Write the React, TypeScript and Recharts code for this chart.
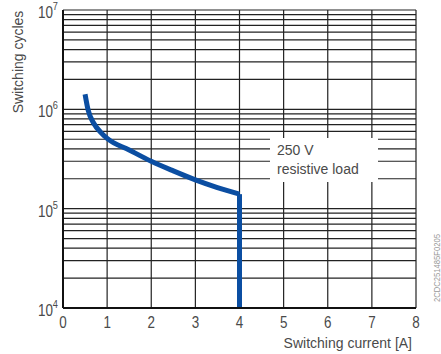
import { CartesianGrid, Line, LineChart, XAxis, YAxis } from 'recharts';

const xTicks = [0, 1, 2, 3, 4, 5, 6, 7, 8];
const yTicks = [
  1e4, 2e4, 3e4, 4e4, 5e4, 6e4, 7e4, 8e4, 9e4,
  1e5, 2e5, 3e5, 4e5, 5e5, 6e5, 7e5, 8e5, 9e5,
  1e6, 2e6, 3e6, 4e6, 5e6, 6e6, 7e6, 8e6, 9e6,
  1e7,
];

// switching current [A] vs switching cycles, 250 V resistive load
const curveCurrent = [0.5, 0.57, 0.7, 0.85, 1, 1.5, 2, 2.5, 3, 3.5, 4];
const curveCycles = [1.42e6, 9.8e5, 7.2e5, 5.9e5, 5.1e5, 3.9e5, 3.0e5, 2.4e5, 1.95e5, 1.63e5, 1.4e5];
const dropCurrent = [4, 4];
const dropCycles = [1.4e5, 1e4];

const curveData = curveCurrent.map((x, i) => ({ x, y: curveCycles[i] }));
const dropData = dropCurrent.map((x, i) => ({ x, y: dropCycles[i] }));

const sans = '"Liberation Sans", Arial, sans-serif';
const blue = '#0b4ea2';
const textColor = '#4a4a4a';

// tick digits in the original are condensed, squeeze them horizontally
function PowTick({ x, y, payload }: any) {
  const lg = Math.log10(payload.value);
  const e = Math.round(lg);
  if (Math.abs(lg - e) > 1e-6) return null;
  return (
    <g transform={`translate(${x},${y + 8}) scale(0.84,1)`}>
      <text x={0} y={0} textAnchor="end" fontFamily={sans} fontSize={16} fill={textColor}>
        <tspan>10</tspan>
        <tspan dy={-8} fontSize={11}>{e}</tspan>
      </text>
    </g>
  );
}

function XTick({ x, y, payload }: any) {
  return (
    <g transform={`translate(${x},${y + 12}) scale(0.84,1)`}>
      <text x={0} y={0} textAnchor="middle" fontFamily={sans} fontSize={16} fill={textColor}>
        {payload.value}
      </text>
    </g>
  );
}

export default function App() {
  return (
    <div style={{ position: 'absolute', left: 0, top: 0, width: 441, height: 354, background: '#fff' }}>
      <LineChart width={441} height={354} margin={{ top: 10, right: 25, bottom: 16, left: 23 }}>
        <CartesianGrid stroke="#222" strokeWidth={1.2} />
        <XAxis
          type="number"
          dataKey="x"
          domain={[0, 8]}
          ticks={xTicks}
          height={30}
          tickLine={false}
          axisLine={{ stroke: '#111', strokeWidth: 2 }}
          tick={<XTick />}
          allowDuplicatedCategory={false}
        />
        <YAxis
          type="number"
          dataKey="y"
          scale="log"
          domain={[1e4, 1e7]}
          ticks={yTicks}
          width={40}
          tickLine={false}
          tickSize={0}
          tickMargin={5}
          axisLine={{ stroke: '#111', strokeWidth: 2 }}
          tick={<PowTick />}
          interval={0}
        />
        <Line
          data={curveData}
          dataKey="y"
          type="monotone"
          stroke={blue}
          strokeWidth={5}
          dot={false}
          activeDot={false}
          isAnimationActive={false}
        />
        <Line
          data={dropData}
          dataKey="y"
          type="linear"
          stroke={blue}
          strokeWidth={5}
          dot={false}
          activeDot={false}
          isAnimationActive={false}
        />
      </LineChart>
      <div
        style={{
          position: 'absolute',
          left: 270,
          top: 138,
          width: 108,
          height: 44,
          background: '#fff',
          fontFamily: sans,
          fontSize: 14,
          color: textColor,
          lineHeight: '19px',
          paddingLeft: 7,
          paddingTop: 3,
          boxSizing: 'border-box',
        }}
      >
        <div>250 V</div>
        <div>resistive load</div>
      </div>
      <svg width={441} height={354} style={{ position: 'absolute', left: 0, top: 0, pointerEvents: 'none' }}>
        <text
          transform="translate(23, 62) rotate(-90)"
          textAnchor="middle"
          fontFamily={sans}
          fontSize={14}
          fill={textColor}
        >
          Switching cycles
        </text>
        <text x={412} y={348} textAnchor="end" fontFamily={sans} fontSize={14} fill={textColor}>
          Switching current [A]
        </text>
        <text transform="translate(440, 302) rotate(-90) scale(0.85,1)" fontFamily={sans} fontSize={9} fill="#999">
          2CDC251485F0205
        </text>
      </svg>
    </div>
  );
}
